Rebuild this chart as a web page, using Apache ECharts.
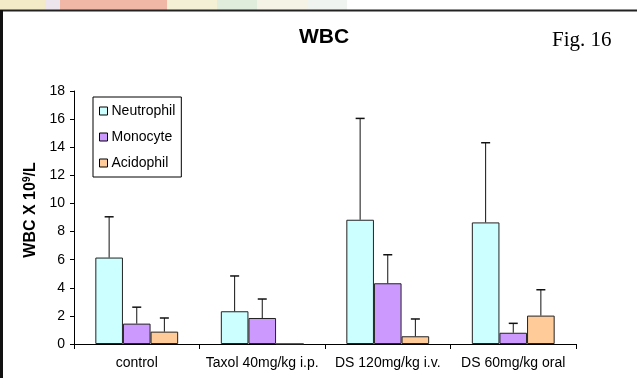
<!DOCTYPE html>
<html>
<head>
<meta charset="utf-8">
<script src="https://cdn.jsdelivr.net/npm/echarts@6/dist/echarts.min.js"></script>
<style>html,body{margin:0;padding:0;background:#fff;}#c{width:637px;height:378px;}</style>
</head>
<body>
<div id="c"></div>
<script>
var categories = ['control', 'Taxol 40mg/kg i.p.', 'DS 120mg/kg i.v.', 'DS 60mg/kg oral'];
var seriesNames = ['Neutrophil', 'Monocyte', 'Acidophil'];
var neutrophil = [6.15, 2.33, 8.84, 8.65];
var neutrophilErrTop = [9.05, 4.84, 16.05, 14.32];
var monocyte = [1.45, 1.85, 4.32, 0.8];
var monocyteErrTop = [2.62, 3.2, 6.35, 1.47];
var acidophil = [0.88, 0, 0.55, 2.02];
var acidophilErrTop = [1.85, null, 1.78, 3.86];
var yTicks = [0, 2, 4, 6, 8, 10, 12, 14, 16, 18];
var colors = ['#ccffff', '#cc99ff', '#ffcc99'];

var values = [neutrophil, monocyte, acidophil];
var errTops = [neutrophilErrTop, monocyteErrTop, acidophilErrTop];

function makeErr(si) {
  return function (params, api) {
    var c = api.value(0), v = api.value(1), e = api.value(2);
    var p0 = api.coord([c, v]);
    var p1 = api.coord([c, e]);
    var bw = api.size([1, 0])[0] * 0.66 / 3;
    var x = p0[0] + (si - 1) * bw;
    return {
      type: 'group',
      children: [
        {type: 'line', shape: {x1: x, y1: p0[1], x2: x, y2: p1[1]}, style: {stroke: '#111', lineWidth: 1}},
        {type: 'line', shape: {x1: x - 4.5, y1: p1[1], x2: x + 4.5, y2: p1[1]}, style: {stroke: '#111', lineWidth: 1.5}}
      ]
    };
  };
}

var series = [];
seriesNames.forEach(function (n, i) {
  series.push({
    name: n, type: 'bar', data: values[i],
    barGap: '0%', barCategoryGap: '34%',
    itemStyle: {color: colors[i], borderColor: '#222', borderWidth: 1},
    z: 2
  });
});
seriesNames.forEach(function (n, i) {
  var d = [];
  values[i].forEach(function (v, k) {
    if (errTops[i][k] != null) d.push([k, v, errTops[i][k]]);
  });
  series.push({
    type: 'custom', renderItem: makeErr(i), data: d, z: 3,
    encode: {x: 0, y: [1, 2]}, silent: true
  });
});

var chart = echarts.init(document.getElementById('c'), null, {renderer: 'canvas'});
chart.setOption({
  animation: false,
  backgroundColor: '#fff',
  grid: {left: 74, right: 61, top: 91, bottom: 34},
  legend: {
    data: seriesNames, orient: 'vertical', left: 93, top: 97,
    icon: 'rect', itemWidth: 8, itemHeight: 8, itemGap: 10,
    padding: [6, 6, 6, 6],
    borderColor: '#000', borderWidth: 1,
    itemStyle: {borderColor: '#000', borderWidth: 1},
    textStyle: {fontFamily: 'Arial, Liberation Sans', fontSize: 14, color: '#000', lineHeight: 16, padding: [0, 0, 0, -1]}
  },
  xAxis: {
    type: 'category', data: categories, boundaryGap: true,
    axisLine: {lineStyle: {color: '#000', width: 1}},
    axisTick: {show: true, length: 5, lineStyle: {color: '#000'}},
    axisLabel: {color: '#000', fontFamily: 'Arial, Liberation Sans', fontSize: 14, margin: 12, interval: 0}
  },
  yAxis: {
    type: 'value', min: 0, max: 18, interval: 2,
    splitLine: {show: false},
    axisLine: {show: true, lineStyle: {color: '#000', width: 1}},
    axisTick: {show: true, length: 4, lineStyle: {color: '#000'}},
    axisLabel: {color: '#000', fontFamily: 'Arial, Liberation Sans', fontSize: 14, margin: 9,
      formatter: function (v) { return yTicks.indexOf(v) >= 0 ? String(v) : ''; }}
  },
  graphic: [
    {type: 'rect', left: 0, top: 0, shape: {width: 45, height: 10}, style: {fill: '#f3eac8'}, silent: true},
    {type: 'rect', left: 45, top: 0, shape: {width: 15, height: 10}, style: {fill: '#ece5ee'}, silent: true},
    {type: 'rect', left: 60, top: 0, shape: {width: 107, height: 10}, style: {fill: '#f0b6a6'}, silent: true},
    {type: 'rect', left: 167, top: 0, shape: {width: 50, height: 10}, style: {fill: '#f3f0d6'}, silent: true},
    {type: 'rect', left: 217, top: 0, shape: {width: 40, height: 10}, style: {fill: '#e0eddd'}, silent: true},
    {type: 'rect', left: 257, top: 0, shape: {width: 50, height: 10}, style: {fill: '#f5f2e6'}, silent: true},
    {type: 'rect', left: 307, top: 0, shape: {width: 40, height: 10}, style: {fill: '#f0f4f0'}, silent: true},
    {type: 'line', shape: {x1: 0, y1: 10.5, x2: 637, y2: 10.5}, style: {stroke: '#222', lineWidth: 2}, silent: true},
    {type: 'line', shape: {x1: 1.5, y1: 10, x2: 1.5, y2: 378}, style: {stroke: '#111', lineWidth: 3}, silent: true},
    {type: 'text', x: 324, y: 37, style: {text: 'WBC', fontFamily: 'Arial, Liberation Sans', fontWeight: 'bold', fontSize: 21, fill: '#000', textAlign: 'center', textVerticalAlign: 'middle'}, silent: true},
    {type: 'text', x: 552, y: 40, style: {text: 'Fig. 16', fontFamily: 'Times New Roman, Liberation Serif', fontSize: 21, fill: '#000', textAlign: 'left', textVerticalAlign: 'middle'}, silent: true},
    {type: 'text', x: 31, y: 210, rotation: Math.PI / 2,
      style: {text: '{a|WBC X 10}{s|9}{a|/L}', textAlign: 'center', textVerticalAlign: 'middle', fill: '#000',
        rich: {a: {fontFamily: 'Arial, Liberation Sans', fontWeight: 'bold', fontSize: 16, fill: '#000'},
               s: {fontFamily: 'Arial, Liberation Sans', fontWeight: 'bold', fontSize: 10, fill: '#000', verticalAlign: 'top', padding: [0, 0, 8, 0]}}},
      silent: true}
  ],
  series: series
});
</script>
</body>
</html>
